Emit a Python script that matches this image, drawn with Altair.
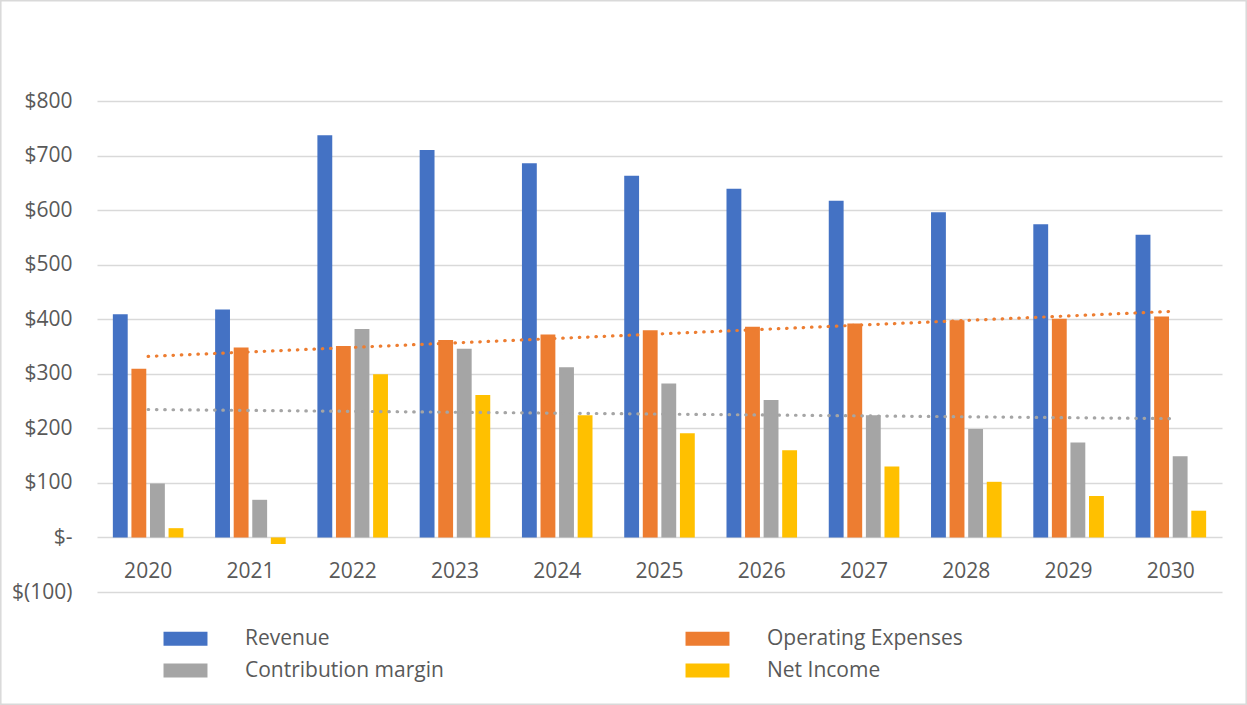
import altair as alt
import pandas as pd

years = [2020, 2021, 2022, 2023, 2024, 2025, 2026, 2027, 2028, 2029, 2030]
revenue = [409, 418, 737, 710, 686, 663, 639, 617, 596, 574, 555]
operating_expenses = [309, 348, 351, 362, 372, 380, 386, 392, 398, 401, 405]
contribution_margin = [99, 69, 382, 346, 312, 282, 252, 224, 199, 174, 149]
net_income = [17, -12, 299, 261, 224, 191, 160, 130, 102, 76, 49]

series_names = ["Revenue", "Operating Expenses", "Contribution margin", "Net Income"]
series_colors = ["#4472C4", "#ED7D31", "#A5A5A5", "#FFC000"]
trend_series = ["Operating Expenses", "Contribution margin"]
trend_colors = ["#ED7D31", "#A5A5A5"]
y_ticks = [-100, 0, 100, 200, 300, 400, 500, 600, 700, 800]

rows = []
for name, vals in zip(series_names, [revenue, operating_expenses, contribution_margin, net_income]):
    for y, v in zip(years, vals):
        rows.append({"year": y, "series": name, "value": v})
df = pd.DataFrame(rows)

FONT = "Open Sans"
TXT = "#595959"

label_expr = ("datum.value == 0 ? '$-' : (datum.value < 0 ? '$(' + format(-datum.value, 'd') + ')' "
              ": '$' + format(datum.value, 'd'))")

x_enc = alt.X(
    "year:O",
    title=None,
    scale=alt.Scale(paddingInner=0.31, paddingOuter=0.155),
    axis=alt.Axis(offset=-54.56, domain=False, ticks=False, tickSize=0, labelPadding=23,
                  labelAngle=0, labelFontSize=21, labelColor=TXT, labelFont=FONT, grid=False),
)
y_enc = alt.Y(
    "value:Q",
    title=None,
    scale=alt.Scale(domain=[-100, 800], nice=False),
    axis=alt.Axis(values=y_ticks, labelExpr=label_expr, domain=False, ticks=False, tickSize=0,
                  labelPadding=25, labelFontSize=21, labelColor=TXT, labelFont=FONT,
                  gridColor="#D9D9D9", gridWidth=1.5),
)

bars = alt.Chart(df).mark_bar().encode(
    x=x_enc,
    xOffset=alt.XOffset("series:N", sort=series_names, scale=alt.Scale(paddingInner=0.2, paddingOuter=0)),
    y=y_enc,
    color=alt.Color(
        "series:N",
        sort=series_names,
        scale=alt.Scale(domain=series_names, range=series_colors),
        legend=alt.Legend(
            title=None, orient="none", legendX=78, legendY=527, columns=2, direction="horizontal",
            columnPadding=241, rowPadding=10,
            symbolType="M-3.14,-1L3.14,-1L3.14,1L-3.14,1Z", symbolSize=196,
            symbolStrokeWidth=0, symbolOpacity=1, labelOffset=49,
            labelFontSize=21, labelColor=TXT, labelFont=FONT, labelLimit=400,
        ),
    ),
)

trend = alt.Chart(df).transform_filter(
    alt.FieldOneOfPredicate(field="series", oneOf=trend_series)
).transform_regression(
    "year", "value", groupby=["series"]
).mark_line(
    strokeDash=[0.5, 7.8], strokeCap="round", strokeWidth=3.2
).encode(
    x=alt.X("year:O"),
    y=alt.Y("value:Q"),
    stroke=alt.Stroke("series:N", scale=alt.Scale(domain=trend_series, range=trend_colors), legend=None),
)

frame = alt.Chart(pd.DataFrame({"k": [0]})).mark_rect(
    fill="transparent", stroke="#D9D9D9", strokeWidth=1.5
).encode(
    x=alt.value(-96.2), x2=alt.value(1149.2), y=alt.value(-100.2), y2=alt.value(603.2)
)

chart = alt.layer(bars, trend, frame).properties(
    width=1125, height=491,
    autosize=alt.AutoSizeParams(type="none"),
    padding={"left": 97, "top": 101, "right": 25, "bottom": 113},
    background="white",
).configure_view(stroke=None)

chart.save("out.html", embed_options={"renderer": "svg", "actions": False})
